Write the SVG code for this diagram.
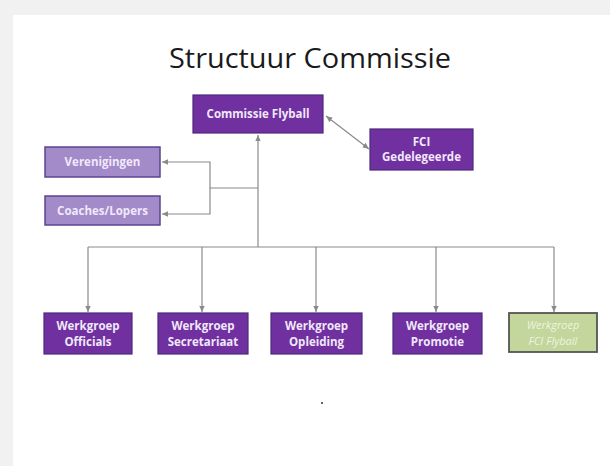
<svg xmlns="http://www.w3.org/2000/svg" width="610" height="466" viewBox="0 0 610 466">
<defs>
<style>
.dk{fill:#7030a0;stroke:#4a2a7a;stroke-width:1.2}
.lt{fill:#a38bc9;stroke:#5a4690;stroke-width:1.5}
.gr{fill:#c3d69b;stroke:#555555;stroke-width:1.8}
.t{font-family:"Open Sans","Liberation Sans",sans-serif;font-weight:bold;font-size:11.5px;text-anchor:middle;fill:#f0e8fa}
.tg{font-family:"Open Sans","Liberation Sans",sans-serif;font-size:11px;font-style:italic;text-anchor:middle;fill:#eef4e0}
.c{fill:none;stroke:#8a8a8a;stroke-width:1.2}
</style>
<marker id="ah" viewBox="0 0 10 10" refX="9" refY="5" markerWidth="6" markerHeight="6" orient="auto-start-reverse">
<path d="M0,1 L9,5 L0,9 z" fill="#8a8a8a"/>
</marker>
</defs>
<rect x="0" y="0" width="610" height="466" fill="#f1f1f1"/>
<rect x="13" y="15" width="597" height="451" fill="#ffffff"/>
<text x="310" y="68" font-family="'Open Sans','Liberation Sans',sans-serif" font-size="28" text-anchor="middle" fill="#1a1a1a" textLength="282" lengthAdjust="spacingAndGlyphs">Structuur Commissie</text>
<g id="connectors">
<line class="c" x1="258" y1="247" x2="258" y2="135" marker-end="url(#ah)"/>
<path class="c" d="M258,188 H210 V162 H162" marker-end="url(#ah)"/>
<path class="c" d="M210,188 V214 H162" marker-end="url(#ah)"/>
<line class="c" x1="88" y1="247" x2="554" y2="247"/>
<line class="c" x1="88" y1="247" x2="88" y2="312" marker-end="url(#ah)"/>
<line class="c" x1="202" y1="247" x2="202" y2="312" marker-end="url(#ah)"/>
<line class="c" x1="316" y1="247" x2="316" y2="312" marker-end="url(#ah)"/>
<line class="c" x1="436" y1="247" x2="436" y2="312" marker-end="url(#ah)"/>
<line class="c" x1="554" y1="247" x2="554" y2="312" marker-end="url(#ah)"/>
<line class="c" x1="326" y1="116" x2="369" y2="149" marker-start="url(#ah)" marker-end="url(#ah)"/>
</g>
<g id="commissie"><rect class="dk" x="193" y="95" width="130" height="38"/><text class="t" x="258" y="118">Commissie Flyball</text></g>
<g id="fci"><rect class="dk" x="370" y="129" width="103" height="41"/><text class="t" x="421.5" y="146">FCI</text><text class="t" x="421.5" y="161">Gedelegeerde</text></g>
<g id="verenigingen"><rect class="lt" x="45" y="147" width="115" height="30"/><text class="t" x="102.5" y="166">Verenigingen</text></g>
<g id="coaches"><rect class="lt" x="45" y="196" width="115" height="29"/><text class="t" x="102.5" y="214.5">Coaches/Lopers</text></g>
<g id="officials"><rect class="dk" x="44" y="313" width="88" height="41"/><text class="t" x="88" y="330">Werkgroep</text><text class="t" x="88" y="346">Officials</text></g>
<g id="secretariaat"><rect class="dk" x="158" y="313" width="90" height="41"/><text class="t" x="203" y="330">Werkgroep</text><text class="t" x="203" y="346">Secretariaat</text></g>
<g id="opleiding"><rect class="dk" x="271" y="313" width="91" height="41"/><text class="t" x="316.5" y="330">Werkgroep</text><text class="t" x="316.5" y="346">Opleiding</text></g>
<g id="promotie"><rect class="dk" x="393" y="313" width="89" height="41"/><text class="t" x="437.5" y="330">Werkgroep</text><text class="t" x="437.5" y="346">Promotie</text></g>
<g id="fciflyball"><rect class="gr" x="509" y="313" width="88" height="39"/><text class="tg" x="553" y="329">Werkgroep</text><text class="tg" x="553" y="345">FCI  Flyball</text></g>
<circle cx="322" cy="403" r="1" fill="#333333"/>
</svg>
